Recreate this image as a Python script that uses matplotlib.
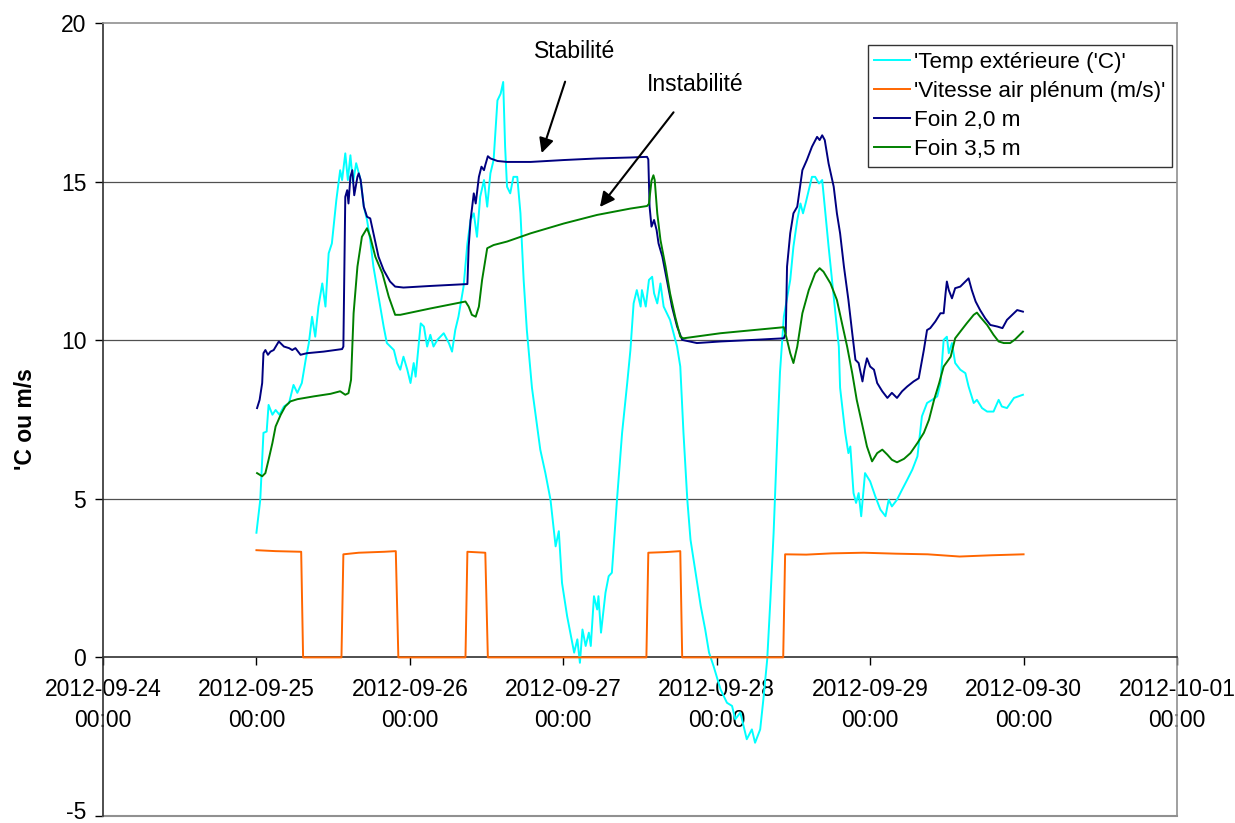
import matplotlib
matplotlib.use("Agg")
import matplotlib.pyplot as plt
import matplotlib.dates as mdates
import matplotlib.transforms as mtransforms
import numpy as np
import pandas as pd

plt.rcParams['font.family'] = ['Liberation Sans', 'DejaVu Sans']
plt.rcParams['axes.unicode_minus'] = False

START = pd.Timestamp('2012-09-25 00:00')

# ---- data (hours since 2012-09-25 00:00, value) ----
temp_hours = [0.0, 0.6, 1.1, 1.6, 1.9, 2.5, 3.0, 3.6, 4.3, 5.1, 5.8, 6.4, 7.1, 7.7, 8.2, 8.7, 9.2, 9.7,
              10.3, 10.8, 11.3, 11.8, 12.5, 13.1, 13.4, 13.9, 14.3, 14.7, 15.1, 15.6, 16.3, 16.8, 17.3,
              17.8, 18.3, 19.1, 19.9, 20.4, 21.5, 22.0, 22.5, 23.0, 23.6, 24.1, 24.6, 24.9, 25.7, 26.2,
              26.7, 27.2, 27.7, 28.3, 29.3, 30.1, 30.6, 31.1, 31.6, 32.4, 33.0, 33.5, 34.0, 34.5, 35.0,
              35.6, 36.1, 36.6, 37.1, 37.7, 38.2, 38.6, 38.9, 39.2, 39.7, 40.2, 40.8, 41.3, 41.8, 42.3,
              43.1, 44.4, 45.2, 46.0, 46.8, 47.3, 47.8, 48.6, 49.2, 49.7, 50.2, 50.6, 51.0, 51.5, 52.0,
              52.3, 52.8, 53.3, 53.5, 53.9, 54.6, 55.1, 55.6, 56.4, 57.2, 58.0, 58.5, 59.0, 59.5, 60.1,
              60.3, 60.9, 61.4, 61.9, 62.2, 62.7, 63.2, 63.7, 64.7, 65.8, 66.3, 66.8, 67.4, 67.9, 68.7,
              69.5, 70.2, 70.8, 71.5, 72.6, 73.6, 74.4, 74.9, 75.7, 76.7, 77.5, 78.0, 78.8, 79.3, 79.9,
              80.4, 80.9, 81.4, 81.9, 82.5, 83.5, 84.0, 84.6, 85.1, 85.5, 85.9, 86.4, 86.9, 87.4, 88.0,
              88.5, 89.0, 89.5, 90.3, 91.1, 91.3, 92.1, 92.6, 92.9, 93.4, 93.8, 94.2, 94.6, 95.2, 96.0,
              96.8, 97.6, 98.4, 98.9, 99.4, 100.2, 101.0, 101.8, 102.6, 103.4, 104.1, 104.9, 105.7,
              106.5, 107.0, 107.5, 108.0, 108.3, 108.8, 109.3, 110.1, 110.9, 111.4, 112.2, 112.7, 113.5,
              114.3, 115.3, 116.1, 116.6, 117.4, 118.5, 119.9]
temp_values = [3.93, 4.97, 7.08, 7.12, 7.96, 7.65, 7.8, 7.65, 7.91, 8.02, 8.59, 8.34, 8.65, 9.38, 9.91,
               10.74, 10.11, 11.06, 11.79, 11.06, 12.74, 13.05, 14.42, 15.36, 15.05, 15.89, 15.05, 15.83,
               14.95, 15.58, 15.05, 14.21, 13.79, 13.16, 12.32, 11.37, 10.43, 9.91, 9.69, 9.28, 9.07, 9.48,
               9.07, 8.65, 9.28, 8.85, 10.53, 10.43, 9.8, 10.17, 9.8, 10.01, 10.22, 9.91, 9.64, 10.32,
               10.74, 11.69, 13.05, 13.79, 14.0, 13.26, 14.52, 15.05, 14.21, 15.26, 15.68, 17.56, 17.77,
               18.14, 16.1, 14.84, 14.63, 15.15, 15.15, 14.0, 11.9, 10.32, 8.5, 6.55, 5.81, 4.97, 3.5,
               3.98, 2.35, 1.3, 0.67, 0.15, 0.57, -0.17, 0.88, 0.36, 0.78, 0.36, 1.93, 1.51, 1.93, 0.78,
               2.04, 2.56, 2.67, 4.97, 7.08, 8.65, 9.69, 11.16, 11.58, 11.06, 11.58, 11.06, 11.9, 12.0,
               11.48, 11.16, 11.79, 11.06, 10.64, 9.8, 9.17, 7.08, 4.97, 3.71, 2.67, 1.62, 0.88, 0.15,
               -0.27, -1.01, -1.43, -1.53, -1.95, -1.74, -2.58, -2.27, -2.69, -2.27, -1.32, -0.06, 1.83,
               3.92, 6.55, 9.0, 10.74, 11.9, 12.95, 13.79, 14.31, 14.0, 14.31, 14.73, 15.15, 15.15, 14.94,
               15.05, 14.0, 12.95, 11.37, 9.8, 8.5, 7.08, 6.44, 6.65, 5.18, 4.87, 5.18, 4.45, 5.81, 5.55,
               5.08, 4.66, 4.45, 4.97, 4.76, 4.97, 5.29, 5.6, 5.92, 6.34, 7.6, 8.02, 8.12, 8.23, 8.65,
               10.01, 10.11, 9.59, 9.91, 9.28, 9.07, 8.96, 8.54, 8.02, 8.12, 7.86, 7.75, 7.75, 8.12, 7.91,
               7.86, 8.18, 8.28]

speed_hours = [0.0, 3.0, 7.0, 7.3, 13.3, 13.6, 16.0, 20.0, 21.8, 22.2, 32.7, 33.0, 35.8, 36.2, 61.0,
               61.3, 64.0, 66.3, 66.6, 82.4, 82.7, 86.0, 90.0, 95.0, 100.0, 105.0, 110.0, 115.0, 120.0]
speed_values = [3.38, 3.35, 3.33, 0.0, 0.0, 3.25, 3.3, 3.33, 3.35, 0.0, 0.0, 3.33, 3.3, 0.0, 0.0,
                3.3, 3.32, 3.35, 0.0, 0.0, 3.25, 3.24, 3.28, 3.3, 3.27, 3.25, 3.18, 3.22, 3.25]

hay20_hours = [0.1, 0.5, 0.9, 1.1, 1.4, 1.8, 2.2, 2.7, 3.5, 4.3, 5.1, 5.6, 6.1, 6.9, 7.9, 10.5, 13.4,
               13.6, 13.9, 14.2, 14.4, 14.7, 15.0, 15.3, 15.8, 16.0, 16.3, 16.8, 17.3, 17.8, 18.3, 19.1,
               19.9, 20.9, 21.7, 23.0, 27.2, 33.0, 33.2, 33.5, 34.0, 34.3, 34.8, 35.2, 35.6, 35.8, 36.2,
               36.6, 37.7, 39.2, 42.9, 48.1, 53.3, 58.5, 61.1, 61.3, 61.5, 61.8, 62.2, 62.6, 62.9, 63.5,
               64.2, 65.0, 65.8, 66.6, 68.9, 72.6, 77.8, 82.5, 82.8, 83.0, 83.5, 84.0, 84.6, 85.4, 86.1,
               86.9, 87.7, 88.1, 88.5, 88.9, 89.5, 90.3, 90.8, 91.3, 91.9, 92.6, 93.2, 93.7, 94.2, 94.8,
               95.1, 95.5, 96.0, 96.6, 97.1, 97.9, 98.7, 99.4, 100.2, 101.0, 101.8, 102.8, 103.6, 104.4,
               104.9, 105.4, 106.2, 107.0, 107.5, 107.8, 108.0, 108.3, 108.8, 109.3, 110.1, 110.6, 111.4,
               111.9, 112.5, 113.2, 114.0, 114.8, 115.9, 116.7, 117.4, 118.5, 119.0, 119.9]
hay20_values = [7.86, 8.12, 8.65, 9.59, 9.69, 9.54, 9.64, 9.69, 9.96, 9.8, 9.75, 9.69, 9.75, 9.54, 9.59,
                9.64, 9.72, 9.8, 14.52, 14.73, 14.31, 15.15, 15.36, 14.57, 15.15, 15.26, 15.05, 14.21,
                13.89, 13.84, 13.37, 12.63, 12.21, 11.85, 11.69, 11.66, 11.71, 11.77, 12.95, 13.79, 14.63,
                14.31, 15.15, 15.47, 15.36, 15.52, 15.8, 15.73, 15.65, 15.62, 15.62, 15.68, 15.73, 15.76,
                15.78, 15.7, 14.21, 13.58, 13.79, 13.47, 13.05, 12.63, 11.9, 11.06, 10.43, 10.01, 9.91,
                9.96, 10.01, 10.06, 10.22, 12.32, 13.37, 14.0, 14.21, 15.36, 15.68, 16.1, 16.41, 16.31,
                16.46, 16.31, 15.57, 14.84, 14.0, 13.37, 12.32, 11.27, 10.22, 9.38, 9.28, 8.7, 9.07, 9.43,
                9.17, 9.07, 8.65, 8.39, 8.18, 8.34, 8.18, 8.39, 8.54, 8.7, 8.8, 9.69, 10.32, 10.38, 10.59,
                10.85, 10.85, 11.48, 11.85, 11.58, 11.32, 11.64, 11.69, 11.79, 11.95, 11.58, 11.22, 10.95,
                10.69, 10.48, 10.43, 10.38, 10.64, 10.85, 10.95, 10.9]

hay35_hours = [0.1, 0.9, 1.4, 1.9, 2.5, 3.0, 3.8, 4.5, 5.3, 6.4, 9.0, 11.6, 13.1, 13.9, 14.4, 14.8, 15.2,
               15.8, 16.5, 17.3, 17.8, 18.6, 19.7, 20.7, 21.7, 22.5, 27.2, 32.7, 33.2, 33.7, 34.3, 34.8,
               35.3, 36.1, 37.1, 39.2, 42.9, 48.1, 53.3, 58.5, 61.1, 61.4, 61.8, 62.1, 62.3, 62.7, 63.2,
               64.0, 64.7, 65.5, 66.3, 66.8, 72.6, 77.8, 82.5, 83.0, 83.5, 84.0, 84.6, 85.4, 86.4, 87.4,
               88.1, 88.7, 89.8, 90.8, 91.6, 92.4, 93.2, 93.9, 94.7, 95.5, 96.3, 97.1, 97.9, 98.7, 99.4,
               100.2, 101.3, 102.3, 103.4, 104.4, 105.2, 106.0, 106.8, 107.5, 108.6, 109.3, 110.1, 111.1,
               112.2, 112.7, 113.2, 114.3, 115.3, 116.1, 116.9, 117.9, 118.7, 119.9]
hay35_values = [5.81, 5.71, 5.81, 6.23, 6.76, 7.28, 7.65, 7.91, 8.07, 8.14, 8.23, 8.31, 8.39, 8.28, 8.33,
                8.75, 10.85, 12.32, 13.26, 13.53, 13.26, 12.63, 12.11, 11.37, 10.8, 10.8, 11.0, 11.22,
                11.06, 10.8, 10.74, 11.06, 11.9, 12.9, 13.0, 13.11, 13.37, 13.68, 13.95, 14.15, 14.23,
                14.3, 15.03, 15.2, 15.05, 14.0, 13.16, 12.32, 11.48, 10.74, 10.11, 10.06, 10.22, 10.32,
                10.41, 10.01, 9.59, 9.28, 9.8, 10.85, 11.58, 12.11, 12.27, 12.16, 11.79, 11.27, 10.53, 9.8,
                8.96, 8.12, 7.39, 6.65, 6.18, 6.44, 6.55, 6.39, 6.23, 6.15, 6.26, 6.44, 6.76, 7.08, 7.49,
                8.12, 8.65, 9.17, 9.48, 10.06, 10.27, 10.53, 10.8, 10.87, 10.74, 10.48, 10.17, 9.96, 9.91,
                9.91, 10.03, 10.27]

series_labels = ["'Temp extérieure ('C)'", "'Vitesse air plénum (m/s)'", "Foin 2,0 m", "Foin 3,5 m"]
series_colors = ['#00FFFF', '#FF6600', '#000080', '#008000']
y_ticks = [-5, 0, 5, 10, 15, 20]

FS = 16.5


def to_time(hours):
    return START + pd.to_timedelta(np.asarray(hours, dtype=float), unit='h')


fig = plt.figure(figsize=(12.35, 8.23), dpi=100)
ax = fig.add_axes([103 / 1235, 1 - 816 / 823, 1074 / 1235, 793 / 823])

series = [(temp_hours, temp_values), (speed_hours, speed_values),
          (hay20_hours, hay20_values), (hay35_hours, hay35_values)]
for (h, v), lab, col in zip(series, series_labels, series_colors):
    ax.plot(to_time(h), v, color=col, lw=1.4, label=lab, zorder=3)

ax.set_xlim(pd.Timestamp('2012-09-24'), pd.Timestamp('2012-10-01'))
ax.set_ylim(-5, 20)
ax.set_yticks(y_ticks)
for yv in [5, 10, 15]:
    ax.axhline(yv, color='#505050', lw=0.9, zorder=1)

ax.xaxis.set_major_locator(mdates.DayLocator())
ax.xaxis.set_major_formatter(mdates.DateFormatter('%Y-%m-%d\n%H:%M'))

ax.spines['bottom'].set_position(('data', 0))
ax.spines['bottom'].set_color('#303030')
ax.spines['left'].set_color('#303030')
ax.spines['top'].set_color('#909090')
ax.spines['right'].set_color('#909090')
for s in ax.spines.values():
    s.set_linewidth(1.2)
ax.plot([0, 1], [0, 0], transform=ax.transAxes, color='#909090', lw=1.5, clip_on=False)

ax.tick_params(axis='x', direction='out', length=6, width=1, pad=9, labelsize=FS)
ax.tick_params(axis='y', direction='out', length=6, width=1, pad=6, labelsize=FS)

ax.set_ylabel("'C ou m/s", fontsize=FS, fontweight='bold', labelpad=17)

ax.annotate('Stabilité', xy=(pd.Timestamp('2012-09-26 20:37'), 15.9),
            xytext=(pd.Timestamp('2012-09-27 01:50'), 19.1), fontsize=FS, ha='center', va='center',
            arrowprops=dict(arrowstyle='-|>', color='black', lw=1.5, mutation_scale=22,
                            shrinkA=12, shrinkB=0))
ax.annotate('Instabilité', xy=(pd.Timestamp('2012-09-27 05:44'), 14.2),
            xytext=(pd.Timestamp('2012-09-27 20:35'), 18.05), fontsize=FS, ha='center', va='center',
            arrowprops=dict(arrowstyle='-|>', color='black', lw=1.5, mutation_scale=22,
                            shrinkA=12, shrinkB=0))

leg = ax.legend(loc='upper right', bbox_to_anchor=(0.9953, 0.9723), borderaxespad=0,
                fontsize=16.2, frameon=True, fancybox=False, handlelength=1.6, handletextpad=0.15,
                borderpad=0.3, labelspacing=0.36)
leg.get_frame().set_edgecolor('black')
leg.get_frame().set_linewidth(1.0)

fig.canvas.draw()
for t in ax.xaxis.get_major_ticks():
    t.label1.set_linespacing(1.45)
for t in ax.yaxis.get_major_ticks():
    if abs(t.get_loc() + 5) < 1e-9:
        t.label1.set_transform(t.label1.get_transform() +
                               mtransforms.ScaledTranslation(0, 4 / 72, fig.dpi_scale_trans))

fig.savefig('out.png', dpi=100)
